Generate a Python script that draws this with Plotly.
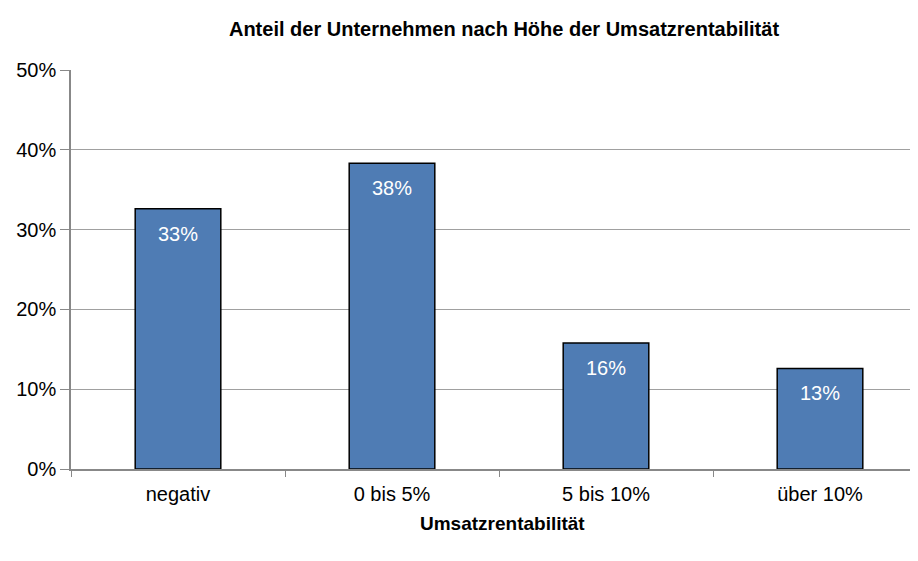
import plotly.graph_objects as go

categories = ["negativ", "0 bis 5%", "5 bis 10%", "über 10%"]
values = [32.6, 38.3, 15.8, 12.6]
y_ticks = [0, 10, 20, 30, 40, 50]
y_ticklabels = ["0%", "10%", "20%", "30%", "40%", "50%"]
title = "Anteil der Unternehmen nach Höhe der Umsatzrentabilität"
x_title = "Umsatzrentabilität"

font = "Liberation Sans, Arial, sans-serif"

W, H = 910, 553
L, R, T, B = 63, 0, 62, 92

fig = go.Figure()
fig.add_trace(go.Bar(
    x=categories, y=values, width=0.4,
    marker=dict(color="#4F7CB4", line=dict(color="#000000", width=1.5)),
    hoverinfo="skip",
))

for c, v in zip(categories, values):
    fig.add_annotation(x=c, y=v, text=f"{int(v + 0.5)}%", showarrow=False,
                       yshift=-25, font=dict(family=font, size=20, color="white"))

fig.add_annotation(xref="paper", yref="paper", x=(494 - L) / (W - L - R), y=0,
                   yanchor="middle", yshift=-54, showarrow=False,
                   text=f"<b>{x_title}</b>", font=dict(family=font, size=19, color="#000000"))

fig.update_layout(
    width=W, height=H,
    margin=dict(l=L, r=R, t=T, b=B),
    paper_bgcolor="white", plot_bgcolor="white",
    showlegend=False,
    font=dict(family=font, size=20, color="#000000"),
    title=dict(text=f"<b>{title}</b>", x=496 / W, xanchor="center", y=1 - 21 / H, yanchor="middle",
               font=dict(family=font, size=20, color="#000000")),
    xaxis=dict(
        range=[-0.5, -0.5 + (W - L - R) / 214],
        showline=True, linecolor="#888888", linewidth=1.5,
        ticks="outside", tickcolor="#888888", ticklen=6, tickwidth=1,
        tickson="boundaries", showgrid=False, ticklabelstandoff=6,
        tickfont=dict(family=font, size=20),
    ),
    yaxis=dict(
        range=[0, 50], tickvals=y_ticks, ticktext=y_ticklabels,
        showline=True, linecolor="#888888", linewidth=1.5,
        ticks="outside", tickcolor="#888888", ticklen=9, tickwidth=1,
        showgrid=True, gridcolor="#A0A0A0", gridwidth=1, zeroline=False,
        tickfont=dict(family=font, size=20),
    ),
)

fig.write_html("out.html")
